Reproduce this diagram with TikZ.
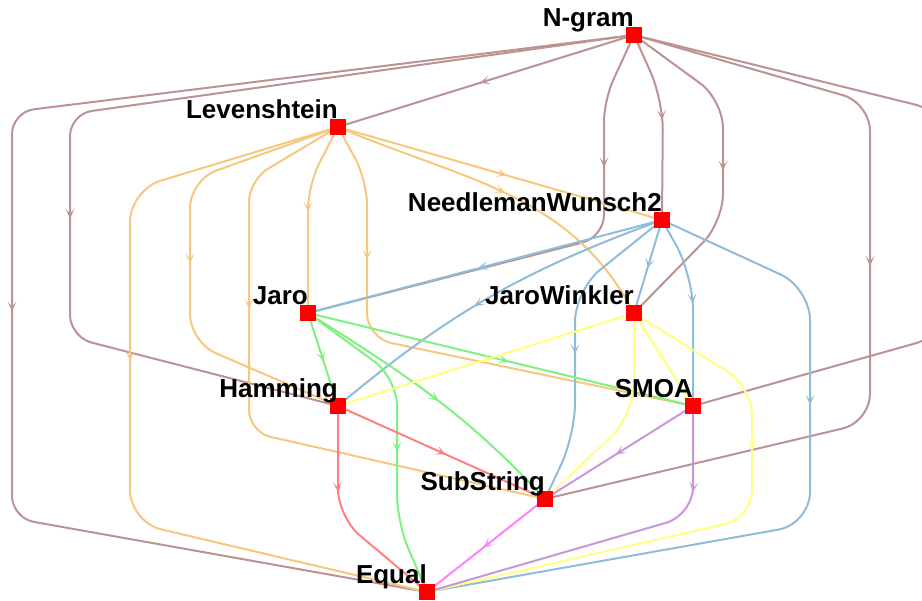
\documentclass[tikz,border=0pt]{standalone}
\usepackage{fontspec}
\setmainfont{Liberation Sans}
\usetikzlibrary{arrows.meta,decorations.markings}
\pgfdeclarelayer{edges}
\pgfsetlayers{edges,main}
\definecolor{cB}{RGB}{188,146,146}
\definecolor{cO}{RGB}{245,200,125}
\definecolor{cBl}{RGB}{143,188,216}
\definecolor{cG}{RGB}{128,240,128}
\definecolor{cY}{RGB}{255,255,128}
\definecolor{cR}{RGB}{255,128,128}
\definecolor{cP}{RGB}{200,150,220}
\definecolor{cM}{RGB}{255,128,255}
\tikzset{
  lbl/.style={anchor=base east, inner sep=0pt, font=\fontsize{26}{30}\selectfont\bfseries},
  vtx/.style={fill=red, minimum size=16pt, inner sep=0pt, outer sep=0pt, label={[lbl]north:#1}},
  edge/.style={draw, line width=2pt, color=#1},
  eB/.style={edge=cB}, eO/.style={edge=cO}, eBl/.style={edge=cBl}, eG/.style={edge=cG},
  eY/.style={edge=cY}, eR/.style={edge=cR}, eP/.style={edge=cP}, eM/.style={edge=cM},
  midarrow/.style={postaction={decorate}, decoration={markings,
    mark=at position #1 with {\arrow{Stealth[length=10pt,width=9pt,inset=5.5pt]}}}},
}
\begin{document}
\begin{tikzpicture}[x=1pt,y=-1pt]
\useasboundingbox (0,0) rectangle (922,601);
\node[vtx=N-gram] (NG) at (634,35) {};
\node[vtx=Levenshtein] (LV) at (338,127) {};
\node[vtx=NeedlemanWunsch2] (NW) at (662,220) {};
\node[vtx=Jaro] (JA) at (308,313) {};
\node[vtx=JaroWinkler] (JW) at (634,313) {};
\node[vtx=Hamming] (HA) at (338,406) {};
\node[vtx=SMOA] (SM) at (693,406) {};
\node[vtx=SubString] (SS) at (545,499) {};
\node[vtx=Equal] (EQ) at (427,592) {};
\begin{pgfonlayer}{edges}
% N-gram
\draw[eB, midarrow=0.52] (NG.center) -- (LV.center);
\draw[eB, rounded corners=22pt, midarrow=818pt] (NG.center) -- (12,112) -- (12,518) -- (EQ.center);
\draw[eB, rounded corners=22pt, midarrow=666pt] (NG.center) -- (70,114) -- (70,337) -- (HA.center);
\draw[eB, rounded corners=22pt, midarrow=138pt] (NG.center) -- (604,100) -- (604,237) -- (JA.center);
\draw[eB, rounded corners=30pt, midarrow=90pt] (NG.center) -- (663,100) -- (NW.center);
\draw[eB, rounded corners=28pt, midarrow=176pt] (NG.center) -- (723,100) -- (723,222) -- (JW.center);
\draw[eB, rounded corners=28pt, midarrow=400pt] (NG.center) -- (870,103) -- (870,422) -- (SS.center);
\draw[eB, rounded corners=30pt, midarrow=432pt] (NG.center) -- (945,112) -- (945,335) -- (SM.center);
% Levenshtein
\draw[eO, midarrow=0.52] (LV.center) -- (NW.center);
\draw[eO, rounded corners=32pt, midarrow=379pt] (LV.center) -- (130,190) -- (130,522) -- (EQ.center);
\draw[eO, rounded corners=28pt, midarrow=233pt] (LV.center) -- (190,180) -- (190,342) -- (HA.center);
\draw[eO, rounded corners=22pt, midarrow=228pt] (LV.center) -- (249,180) -- (249,432) -- (SS.center);
\draw[eO, rounded corners=25pt, midarrow=91pt] (LV.center) -- (308,185) -- (JA.center);
\draw[eO, rounded corners=25pt, midarrow=139pt] (LV.center) -- (367,180) -- (367,338) -- (SM.center);
\draw[eO, midarrow=0.5] (LV.center) .. controls (464,181) and (570,192) .. (JW.center);
% NeedlemanWunsch2
\draw[eBl, midarrow=0.52] (NW.center) -- (JA.center);
\draw[eBl, midarrow=0.55] (NW.center) .. controls (525,270) and (450,312) .. (HA.center);
\draw[eBl, rounded corners=32pt, midarrow=171pt] (NW.center) -- (575,290) -- (575,435) -- (SS.center);
\draw[eBl, midarrow=0.52] (NW.center) -- (JW.center);
\draw[eBl, rounded corners=35pt, midarrow=90pt] (NW.center) -- (693,275) -- (SM.center);
\draw[eBl, rounded corners=32pt, midarrow=272pt] (NW.center) -- (810,288) -- (810,524) -- (EQ.center);
% Jaro
\draw[eG, midarrow=0.52] (JA.center) -- (HA.center);
\draw[eG, rounded corners=28pt, midarrow=179pt] (JA.center) -- (397,378) -- (397,522) -- (EQ.center);
\draw[eG, midarrow=0.52] (JA.center) .. controls (408,376) and (465,413) .. (SS.center);
\draw[eG, midarrow=0.52] (JA.center) -- (SM.center);
% JaroWinkler
\draw[eY, midarrow=0.52] (JW.center) -- (HA.center);
\draw[eY, midarrow=0.52] (JW.center) -- (SM.center);
\draw[eY, rounded corners=32pt, midarrow=86pt] (JW.center) -- (634,415) -- (SS.center);
\draw[eY, rounded corners=28pt, midarrow=196pt] (JW.center) -- (752,387) -- (752,518) -- (EQ.center);
% Hamming
\draw[eR, midarrow=0.52] (HA.center) -- (SS.center);
\draw[eR, rounded corners=28pt, midarrow=86pt] (HA.center) -- (338,517) -- (EQ.center);
% SMOA
\draw[eP, midarrow=0.52] (SM.center) -- (SS.center);
\draw[eP, rounded corners=28pt, midarrow=86pt] (SM.center) -- (693,515) -- (EQ.center);
% SubString
\draw[eM, midarrow=0.52] (SS.center) -- (EQ.center);
\end{pgfonlayer}
\end{tikzpicture}
\end{document}
